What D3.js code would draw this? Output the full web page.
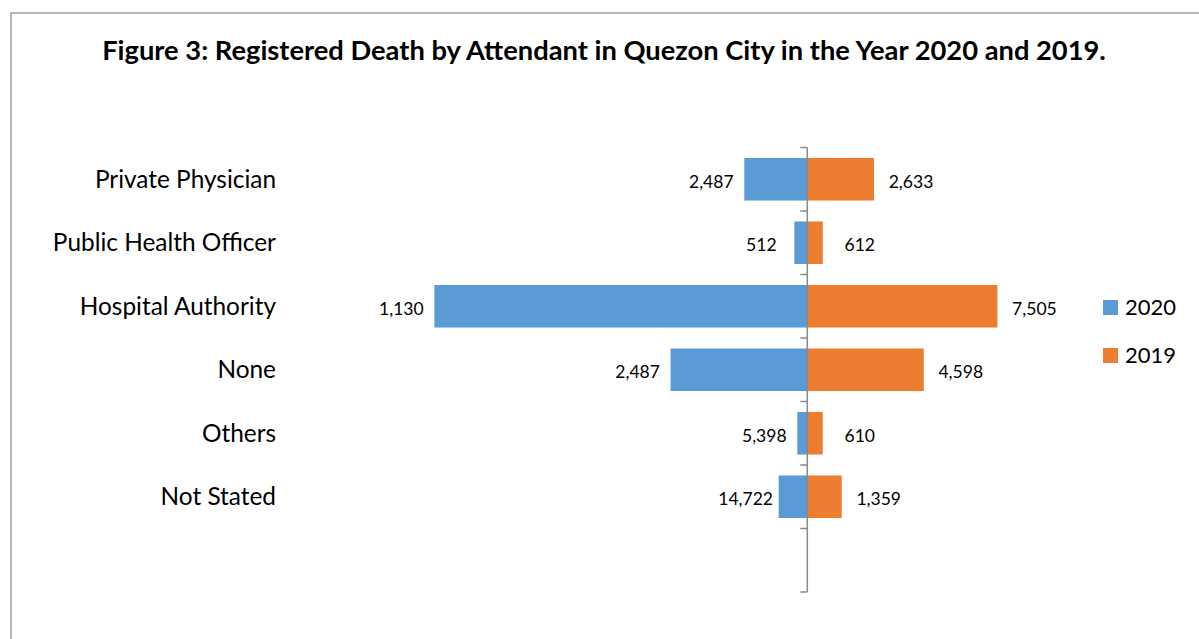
<!DOCTYPE html>
<html lang="en">
<head>
    <meta charset="UTF-8">
    <title>Registered Death by Attendant</title>
    <script src="https://d3js.org/d3.v7.min.js"></script>
    <style>
        body { margin: 0; background: #fff; }
        text { font-family: Lato, "Open Sans", sans-serif; fill: #000; }
    </style>
</head>
<body>
<svg id="chart"></svg>

<script>
    // Data
    let categories = ["Private Physician", "Public Health Officer", "Hospital Authority", "None", "Others", "Not Stated"];
    let values2020 = [2487, 512, 14722, 5398, 395, 1130];
    let values2019 = [2633, 612, 7505, 4598, 610, 1359];
    // the data labels printed next to the 2020 bars (as they appear in the figure)
    let labels2020 = ["2,487", "512", "1,130", "2,487", "5,398", "14,722"];
    let labels2019 = ["2,633", "612", "7,505", "4,598", "610", "1,359"];
    let seriesNames = ["2020", "2019"];

    let width = 1199,
        height = 639;

    let colour = ["#5B9BD5", "#ED7D31"];

    let svg = d3.select("#chart")
        .attr("width", width)
        .attr("height", height);

    // Chart frame
    svg.append("rect")
        .attr("x", 11)
        .attr("y", 13)
        .attr("width", width + 10)
        .attr("height", height + 10)
        .attr("fill", "none")
        .attr("stroke", "#b8b8b8")
        .attr("stroke-width", 2);

    // Title
    svg.append("text")
        .attr("x", 604)
        .attr("y", 60)
        .attr("text-anchor", "middle")
        .style("font-weight", "bold")
        .style("font-size", "27.3px")
        .text("Figure 3: Registered Death by Attendant in Quezon City in the Year 2020 and 2019.");

    // Scales: 2020 goes to the left (negative side), 2019 to the right
    let x = d3.scaleLinear()
        .domain([-15000, 10000])
        .range([427.35, 1060.6]);

    // one empty band is left at the bottom, as in the original
    let y = d3.scaleBand()
        .domain(categories.concat([""]))
        .range([147.5, 592])
        .paddingInner(0.33)
        .paddingOuter(0.165);

    let rows = categories.map(function (c, i) {
        return {
            cat: c,
            v2020: values2020[i],
            v2019: values2019[i],
            l2020: labels2020[i],
            l2019: labels2019[i]
        };
    });

    // 2020 bars
    svg.selectAll(".bar2020")
        .data(rows)
        .enter().append("rect")
        .attr("class", "bar2020")
        .attr("x", function (d) { return x(-d.v2020); })
        .attr("y", function (d) { return y(d.cat); })
        .attr("width", function (d) { return x(0) - x(-d.v2020); })
        .attr("height", y.bandwidth())
        .attr("fill", colour[0]);

    // 2019 bars
    svg.selectAll(".bar2019")
        .data(rows)
        .enter().append("rect")
        .attr("class", "bar2019")
        .attr("x", x(0))
        .attr("y", function (d) { return y(d.cat); })
        .attr("width", function (d) { return x(d.v2019) - x(0); })
        .attr("height", y.bandwidth())
        .attr("fill", colour[1]);

    // Vertical category axis in the middle
    let axis = svg.append("g")
        .attr("transform", "translate(" + x(0) + ",0)");

    axis.append("line")
        .attr("y1", y.range()[0])
        .attr("y2", y.range()[1])
        .attr("stroke", "#898989")
        .attr("stroke-width", 1.5);

    axis.selectAll(".tick")
        .data(d3.range(y.domain().length + 1))
        .enter().append("line")
        .attr("class", "tick")
        .attr("x1", -7)
        .attr("x2", 0)
        .attr("y1", function (i) { return y.range()[0] + i * y.step(); })
        .attr("y2", function (i) { return y.range()[0] + i * y.step(); })
        .attr("stroke", "#898989")
        .attr("stroke-width", 1.5);

    // Category labels on the far left
    svg.selectAll(".catlabel")
        .data(rows)
        .enter().append("text")
        .attr("class", "catlabel")
        .attr("x", 276)
        .attr("y", function (d) { return y(d.cat) + y.bandwidth() / 2; })
        .attr("dy", "0.35em")
        .attr("text-anchor", "end")
        .style("font-size", "24.4px")
        .text(function (d) { return d.cat; });

    // Data labels
    svg.selectAll(".lab2020")
        .data(rows)
        .enter().append("text")
        .attr("class", "lab2020")
        .attr("x", function (d) { return x(-d.v2020) - 33; })
        .attr("y", function (d) { return y(d.cat) + y.bandwidth() / 2 + 2.5; })
        .attr("dy", "0.35em")
        .attr("text-anchor", "middle")
        .style("font-size", "17.5px")
        .text(function (d) { return d.l2020; });

    svg.selectAll(".lab2019")
        .data(rows)
        .enter().append("text")
        .attr("class", "lab2019")
        .attr("x", function (d) { return x(d.v2019) + 37; })
        .attr("y", function (d) { return y(d.cat) + y.bandwidth() / 2 + 2.5; })
        .attr("dy", "0.35em")
        .attr("text-anchor", "middle")
        .style("font-size", "17.5px")
        .text(function (d) { return d.l2019; });

    // Legend
    let legend = svg.append("g")
        .attr("transform", "translate(1103,300)");

    legend.selectAll("rect")
        .data(seriesNames)
        .enter().append("rect")
        .attr("x", 0)
        .attr("y", function (d, i) { return i * 48; })
        .attr("width", 15)
        .attr("height", 15)
        .attr("fill", function (d, i) { return colour[i]; });

    legend.selectAll("text")
        .data(seriesNames)
        .enter().append("text")
        .attr("x", 22)
        .attr("y", function (d, i) { return i * 48 + 7.5; })
        .attr("dy", "0.35em")
        .style("font-size", "22px")
        .text(function (d) { return d; });
</script>
</body>
</html>
